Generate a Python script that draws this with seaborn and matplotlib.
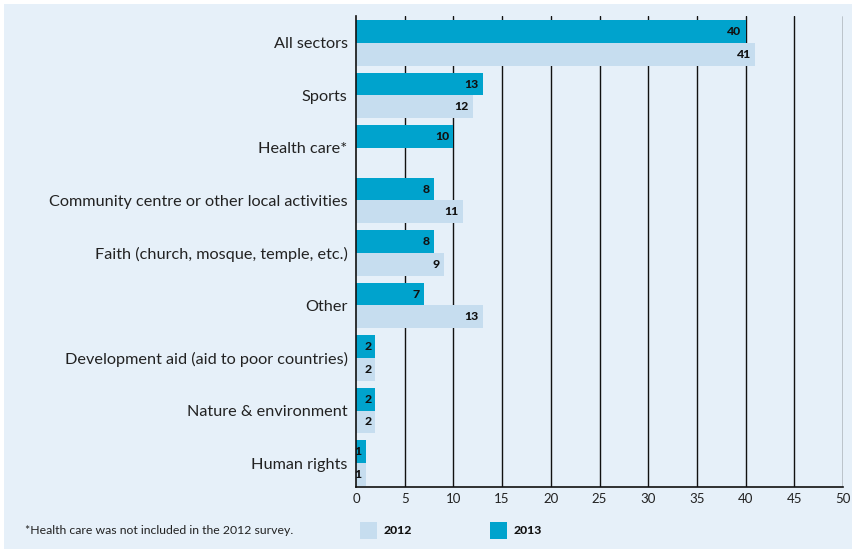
import matplotlib
matplotlib.use("Agg")
import matplotlib.pyplot as plt
from matplotlib.patches import Rectangle
import numpy as np
import pandas as pd
import seaborn as sns

# Volunteering by sector, share of respondents (%)
sectors = [
    "All sectors",
    "Sports",
    "Health care*",
    "Community centre or other local activities",
    "Faith (church, mosque, temple, etc.)",
    "Other",
    "Development aid (aid to poor countries)",
    "Nature & environment",
    "Human rights",
]
values_2013 = [40, 13, 10, 8, 8, 7, 2, 2, 1]
values_2012 = [41, 12, np.nan, 11, 9, 13, 2, 2, 1]
years = ["2013", "2012"]
x_ticks = list(range(0, 51, 5))
footnote = "*Health care was not included in the 2012 survey."

DARK = "#00a3cd"
LIGHT = "#c6ddef"
PANEL = "#e6f0f9"

df = pd.DataFrame({
    "sector": sectors * 2,
    "year": [years[0]] * len(sectors) + [years[1]] * len(sectors),
    "value": values_2013 + values_2012,
})

sns.set_theme(style="white")
plt.rcParams["font.family"] = ["Lato", "DejaVu Sans"]

fig = plt.figure(figsize=(8.55, 5.52), dpi=100)
fig.patch.set_facecolor("white")
# light panel behind everything
fig.patches.append(Rectangle((4 / 855, 1 - 549 / 552), 848 / 855, 545 / 552,
                             transform=fig.transFigure, facecolor=PANEL,
                             edgecolor="none", zorder=-10))

ax = fig.add_axes([356 / 855, 1 - 487 / 552, (843 - 356) / 855, (487 - 16) / 552])
ax.set_zorder(1)
ax.set_facecolor("none")

sns.barplot(data=df, y="sector", x="value", hue="year", hue_order=years,
            order=sectors, orient="h", palette={"2013": DARK, "2012": LIGHT},
            width=0.875, gap=0, saturation=1, errorbar=None, ax=ax,
            legend=False, linewidth=0, zorder=3)

ax.set_xlim(0, 50)
ax.set_ylim(8.457, -0.514)
ax.set_xticks(x_ticks)
ax.set_xticklabels([str(t) for t in x_ticks], fontsize=9.5, color="#222222")
ax.set_xlabel("")
ax.set_ylabel("")
ax.tick_params(axis="y", length=0, pad=6, labelsize=11.7, labelcolor="#222222")
ax.tick_params(axis="x", length=0, pad=4)
for lbl in ax.get_yticklabels():
    lbl.set_y(lbl.get_position()[1])

for x in x_ticks[1:]:
    ax.axvline(x, color="#111111", lw=1.0, zorder=1)

for side in ["top", "right"]:
    ax.spines[side].set_visible(False)
for side in ["left", "bottom"]:
    ax.spines[side].set_color("#111111")
    ax.spines[side].set_linewidth(1.2)
    ax.spines[side].set_zorder(4)

# value labels just inside each bar end
for container in ax.containers:
    for patch in container:
        w = patch.get_width()
        if not np.isfinite(w) or w <= 0:
            continue
        yc = patch.get_y() + patch.get_height() / 2
        ax.annotate(f"{w:.0f}", (w, yc), xytext=(-3, 0),
                    textcoords="offset points", ha="right", va="center",
                    fontsize=8.8, fontweight="black", color="#111111", zorder=5)

fig.text(25 / 855, 1 - 531 / 552, footnote, fontsize=8.8, color="#222222",
         va="center", ha="left")

# legend: 2012 then 2013
legend_items = [("2012", LIGHT, 360), ("2013", DARK, 490)]
for label, color, px in legend_items:
    fig.patches.append(Rectangle((px / 855, 1 - 539 / 552), 17 / 855, 17 / 552,
                                 transform=fig.transFigure, facecolor=color,
                                 edgecolor="none", zorder=2))
    fig.text((px + 24) / 855, 1 - 531 / 552, label, fontsize=8.8,
             fontweight="black", color="#111111", va="center", ha="left")

fig.savefig("out.png", dpi=100, facecolor=fig.get_facecolor())
